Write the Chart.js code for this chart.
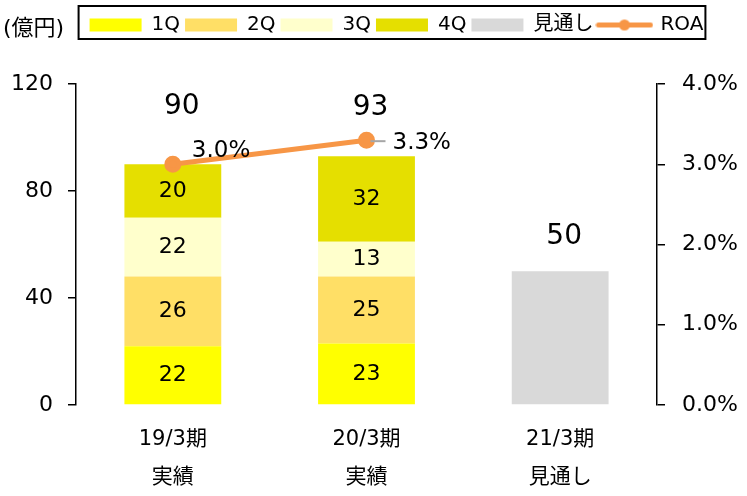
<!DOCTYPE html>
<html>
<head>
<meta charset="utf-8">
<script src="https://cdn.jsdelivr.net/npm/chart.js@4.4.1/dist/chart.umd.min.js"></script>
<style>
body{margin:0;background:#fff;}
canvas{display:block;}
</style>
</head>
<body>
<canvas id="roaChart" width="747" height="496"></canvas>
<script>
const categories = [["19/3期","実績"],["20/3期","実績"],["21/3期","見通し"]];
const q1 = [22, 23, null];
const q2 = [26, 25, null];
const q3 = [22, 13, null];
const q4 = [20, 32, null];
const forecast = [null, null, 50];
const totals = [90, 93, 50];
const roa = [3.0, 3.3, null];

const FONT = '"DejaVu Sans", "Noto Sans CJK JP", sans-serif';
const LEGEND_PAD = 5;

// legend icon for ROA (line + dot)
function roaIcon(){
const c = document.createElement("canvas");
c.width = 58; c.height = 13;
const g = c.getContext("2d");
g.strokeStyle = "#F79646";
g.lineWidth = 5;
g.lineCap = "round";
g.beginPath(); g.moveTo(3,6.5); g.lineTo(55,6.5); g.stroke();
g.fillStyle = "#F79646";
g.beginPath(); g.arc(29,6.5,5.5,0,Math.PI*2); g.fill();
return c;
}

const legendBox = {
id:"legendBox",
beforeInit(chart){
const fit = chart.legend.fit;
chart.legend.fit = function(){
fit.bind(chart.legend)();
this.height += 49;
};
},
afterLayout(chart){
// legend content centred around x=396, a little lower
const lg = chart.legend;
const shift = 396.5 - (lg.left + lg.width/2);
lg.left += shift;
lg.right += shift;
lg.top += 10;
lg.bottom += 10;
},
afterDraw(chart){
const ctx = chart.ctx;
const lg = chart.legend;
const w = lg.lineWidths[0];
const x0 = lg.left + (lg.width + LEGEND_PAD - w)/2;
ctx.save();
ctx.strokeStyle = "#000";
ctx.lineWidth = 2;
ctx.strokeRect(x0 - 11, 6, w - LEGEND_PAD + 13, 33);
ctx.fillStyle = "#000";
ctx.font = "22px " + FONT;
ctx.textBaseline = "middle";
ctx.textAlign = "left";
ctx.fillText("(億円)", 3, 29);
ctx.restore();
}
};

const valueLabels = {
id:"valueLabels",
afterDatasetsDraw(chart, args, opts){
const ctx = chart.ctx;
ctx.save();
ctx.fillStyle = "#000";
ctx.textAlign = "center";
ctx.textBaseline = "middle";

// segment values
ctx.font = "22px " + FONT;
chart.data.datasets.forEach((ds,i)=>{
if(ds.type === "line" || ds.label === "見通し") return;
chart.getDatasetMeta(i).data.forEach((bar,j)=>{
const v = ds.data[j];
if(v == null) return;
ctx.fillText(v, bar.x, (bar.y + bar.base)/2);
});
});

// totals
const ys = chart.scales.y;
const xs = chart.scales.x;
ctx.font = "28px " + FONT;
totals.forEach((t,j)=>{
const x = xs.getPixelForValue(j) + opts.totalDx[j];
const y = ys.getPixelForValue(t) - opts.totalOffsets[j];
ctx.fillText(t, x, y);
});

// ROA labels
const lineIdx = chart.data.datasets.findIndex(d=>d.type === "line");
const pts = chart.getDatasetMeta(lineIdx).data;
ctx.font = "23px " + FONT;
ctx.textAlign = "left";
roa.forEach((v,j)=>{
if(v == null) return;
const p = pts[j];
const off = opts.roaOffsets[j];
if(opts.roaLeader[j]){
ctx.strokeStyle = "#A6A6A6";
ctx.lineWidth = 2;
ctx.beginPath();
ctx.moveTo(p.x + 4, p.y + 1);
ctx.lineTo(p.x + off[0] - 7, p.y + 1);
ctx.stroke();
}
ctx.fillText(v.toFixed(1) + "%", p.x + off[0], p.y + off[1]);
});
ctx.restore();
}
};

const ctx1 = document.getElementById("roaChart");

new Chart(ctx1,{
type:"bar",
data:{
labels:categories,
datasets:[
{label:"1Q",data:q1,backgroundColor:"#FFFF00",order:2},
{label:"2Q",data:q2,backgroundColor:"#FFDF66",order:2},
{label:"3Q",data:q3,backgroundColor:"#FFFFCC",order:2},
{label:"4Q",data:q4,backgroundColor:"#E5DF00",order:2},
{label:"見通し",data:forecast,backgroundColor:"#D9D9D9",order:2},
{
label:"ROA",
type:"line",
data:roa,
yAxisID:"y1",
borderColor:"#F79646",
backgroundColor:"#F79646",
borderWidth:5,
pointRadius:6,
pointHoverRadius:6,
order:1
}
]
},
options:{
responsive:false,
animation:false,
categoryPercentage:1,
barPercentage:0.5,
layout:{padding:0},
plugins:{
legend:{
position:"top",
labels:{
usePointStyle:true,
pointStyleWidth:52,
boxHeight:13,
padding:LEGEND_PAD,
color:"#000",
font:{family:FONT,size:20},
generateLabels(chart){
const items = Chart.defaults.plugins.legend.labels.generateLabels(chart);
items.sort((a,b)=>a.datasetIndex - b.datasetIndex);
items.forEach(it=>{
it.lineWidth = 0;
it.pointStyle = it.text === "ROA" ? roaIcon() : "rect";
});
return items;
}
}
},
tooltip:{enabled:false},
valueLabels:{
totalOffsets:[58,49,35],
totalDx:[9,4,4],
roaOffsets:[[19,-13],[26,3]],
roaLeader:[false,true]
}
},
scales:{
x:{
stacked:true,
grid:{display:false},
border:{display:false},
ticks:{
color:"#000",
padding:8,
font:{family:FONT,size:21,lineHeight:1.8}
},
afterFit(s){ s.height = 91; }
},
y:{
stacked:true,
min:0,
max:120,
ticks:{
stepSize:40,
color:"#000",
padding:15,
font:{family:FONT,size:22}
},
grid:{drawOnChartArea:false,tickLength:8,color:"#000",lineWidth:1.5},
border:{color:"#000",width:1.5},
afterFit(s){ s.width = 76; }
},
y1:{
position:"right",
min:0,
max:4,
ticks:{
stepSize:1,
color:"#000",
padding:17,
font:{family:FONT,size:22},
callback:v=>v.toFixed(1)+"%"
},
grid:{drawOnChartArea:false,tickLength:8,color:"#000",lineWidth:1.5},
border:{color:"#000",width:1.5},
afterFit(s){ s.width = 90; }
}
}
},
plugins:[legendBox,valueLabels]
});
</script>
</body>
</html>
